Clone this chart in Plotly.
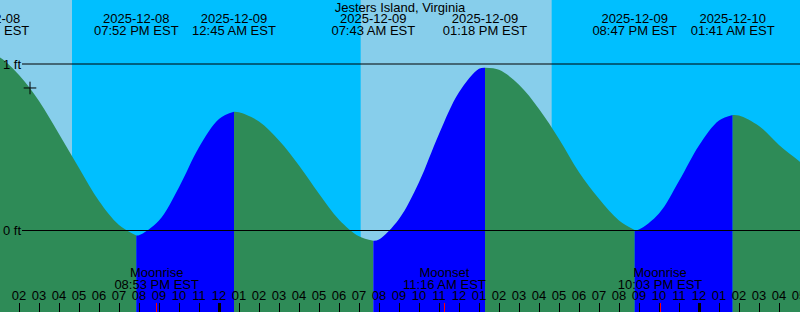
import plotly.graph_objects as go
import pandas as pd

# ---------------- data ----------------
TITLE = "Jesters Island, Virginia"

# hourly water level (ft) from 2025-12-08 12:00 to 2025-12-10 06:00
hourly_start = "2025-12-08 12:00"
hourly_levels = [1.055, 1.043, 0.934, 0.778, 0.580, 0.375, 0.177, 0.033, -0.029, 0.06, 0.26, 0.50,
                 0.67, 0.71, 0.655, 0.54, 0.39, 0.22, 0.065, -0.035, -0.054, 0.069, 0.29, 0.58,
                 0.83, 0.971,
                 0.965, 0.875, 0.73, 0.55, 0.35, 0.19, 0.06, 0.006, 0.102, 0.297, 0.511, 0.661,
                 0.691, 0.628, 0.514, 0.417, 0.31]

# high / low tides
tide_times = ["2025-12-08 12:24", "2025-12-08 19:52", "2025-12-09 00:45", "2025-12-09 07:43",
              "2025-12-09 13:18", "2025-12-09 20:47", "2025-12-10 01:41"]
tide_levels = [1.06, -0.03, 0.713, -0.061, 0.978, 0.003, 0.694]

# daylight
sunrise_times = ["2025-12-08 07:04", "2025-12-09 07:05"]
sunset_times = ["2025-12-08 16:39", "2025-12-09 16:38"]

# moon
moon_times = ["2025-12-08 20:53", "2025-12-09 11:16", "2025-12-09 22:03"]
moon_events = ["Moonrise", "Moonset", "Moonrise"]

midnights = ["2025-12-09 00:00", "2025-12-10 00:00"]

level_ticks = [0, 1]
level_labels = ["0 ft", "1 ft"]

now_time = "2025-12-08 14:33"
now_level = 0.856

# ---------------- styling ----------------
X_RANGE = ["2025-12-08 13:03", "2025-12-10 05:03"]
Y_MIN, Y_MAX = -0.4895, 1.3844
H = 312
PX_PER_FT = H / (Y_MAX - Y_MIN)
FONT = "Liberation Sans, Arial, sans-serif"
FS = 13
SEA_GREEN = "#2E8B57"
FLOOD_BLUE = "#0000FF"
DAY = "#87CEEB"
NIGHT = "#00BFFF"
BOTTOM = -1.0


def y_at_px(px_from_top):
    return Y_MAX - px_from_top / PX_PER_FT


# ---------------- build series ----------------
hourly = pd.DataFrame({
    "t": pd.date_range(hourly_start, periods=len(hourly_levels), freq="h"),
    "v": hourly_levels,
})
ext = pd.DataFrame({"t": pd.to_datetime(tide_times), "v": tide_levels})
series = pd.concat([hourly, ext]).sort_values("t").drop_duplicates("t").reset_index(drop=True)

bounds = [series["t"].iloc[0]] + list(ext["t"]) + [series["t"].iloc[-1]]

fig = go.Figure()

for a, b in zip(bounds[:-1], bounds[1:]):
    seg = series[(series["t"] >= a) & (series["t"] <= b)]
    if len(seg) < 2:
        continue
    rising = seg["v"].iloc[-1] > seg["v"].iloc[0]
    color = FLOOD_BLUE if rising else SEA_GREEN
    fig.add_trace(go.Scatter(x=[a, b], y=[BOTTOM, BOTTOM], mode="lines",
                             line=dict(width=0), hoverinfo="skip"))
    fig.add_trace(go.Scatter(x=seg["t"], y=seg["v"], mode="lines",
                             line=dict(width=0, shape="spline", color=color),
                             fill="tonexty", fillcolor=color, hoverinfo="skip"))

# daylight shading (below traces)
for sr, ss in zip(sunrise_times, sunset_times):
    fig.add_shape(type="rect", xref="x", yref="paper", x0=sr, x1=ss, y0=0, y1=1,
                  fillcolor=DAY, line=dict(width=0), layer="below")

# level lines
for v in level_ticks:
    fig.add_shape(type="line", xref="paper", yref="y", x0=22 / 800, x1=1, y0=v, y1=v,
                  line=dict(color="black", width=1), layer="above")

# "+" marker
fig.add_trace(go.Scatter(x=[now_time], y=[now_level], mode="markers",
                         marker=dict(symbol="cross-thin", size=9,
                                     line=dict(color="black", width=1)),
                         hoverinfo="skip"))

# tide labels
ext_t = pd.to_datetime(tide_times)
fig.add_trace(go.Scatter(x=ext_t, y=[y_at_px(19.5)] * len(ext_t), mode="text",
                         text=[t.strftime("%Y-%m-%d") for t in ext_t],
                         textfont=dict(family=FONT, size=FS, color="black"),
                         textposition="middle center", hoverinfo="skip"))
fig.add_trace(go.Scatter(x=ext_t, y=[y_at_px(31.5)] * len(ext_t), mode="text",
                         text=[t.strftime("%I:%M %p EST") for t in ext_t],
                         textfont=dict(family=FONT, size=FS, color="black"),
                         textposition="middle center", hoverinfo="skip"))

# moon labels
moon_t = pd.to_datetime(moon_times)
fig.add_trace(go.Scatter(x=moon_t, y=[y_at_px(273.5)] * len(moon_t), mode="text",
                         text=moon_events,
                         textfont=dict(family=FONT, size=FS, color="black"),
                         textposition="middle center", hoverinfo="skip"))
fig.add_trace(go.Scatter(x=moon_t, y=[y_at_px(285.5)] * len(moon_t), mode="text",
                         text=[t.strftime("%I:%M %p EST") for t in moon_t],
                         textfont=dict(family=FONT, size=FS, color="black"),
                         textposition="middle center", hoverinfo="skip"))

# helper traces for overlay tick axes
fig.add_trace(go.Scatter(x=[X_RANGE[0]], y=[0], xaxis="x2", mode="markers",
                         marker=dict(opacity=0), hoverinfo="skip"))
fig.add_trace(go.Scatter(x=[X_RANGE[0]], y=[0], xaxis="x3", mode="markers",
                         marker=dict(opacity=0), hoverinfo="skip"))

common_x = dict(type="date", range=X_RANGE, showgrid=False, zeroline=False, showline=False,
                layer="above traces", fixedrange=True, automargin=False)

fig.update_layout(
    width=800, height=H,
    margin=dict(l=0, r=0, t=0, b=0, autoexpand=False),
    paper_bgcolor=NIGHT, plot_bgcolor=NIGHT,
    showlegend=False,
    font=dict(family=FONT, size=FS, color="black"),
    title=dict(text=TITLE, x=0.5, xanchor="center", y=1 - 7.5 / H, yanchor="middle",
               yref="container", font=dict(family=FONT, size=FS, color="black")),
    xaxis=dict(**common_x, tickmode="linear", tick0="2025-12-08 00:00", dtick=3600000,
               tickformat="%I", ticks="inside", ticklen=9, tickwidth=1, tickcolor="black",
               ticklabelposition="inside", ticklabeloverflow="allow",
               tickfont=dict(family=FONT, size=FS, color="black")),
    xaxis2=dict(**common_x, overlaying="x", matches="x", anchor="y", side="bottom",
                tickmode="array", tickvals=midnights, ticks="inside", ticklen=9, tickwidth=3,
                tickcolor="black", showticklabels=False),
    xaxis3=dict(**common_x, overlaying="x", matches="x", anchor="y", side="bottom",
                tickmode="array", tickvals=moon_times, ticks="inside", ticklen=9, tickwidth=1,
                tickcolor="red", showticklabels=False),
    yaxis=dict(range=[Y_MIN, Y_MAX], showgrid=False, zeroline=False, showline=False,
               tickmode="array", tickvals=level_ticks, ticktext=level_labels, ticks="",
               ticklabelposition="inside", ticklabeloverflow="allow", layer="above traces",
               fixedrange=True, automargin=False,
               tickfont=dict(family=FONT, size=FS, color="black")),
)

fig.write_html("out.html")
